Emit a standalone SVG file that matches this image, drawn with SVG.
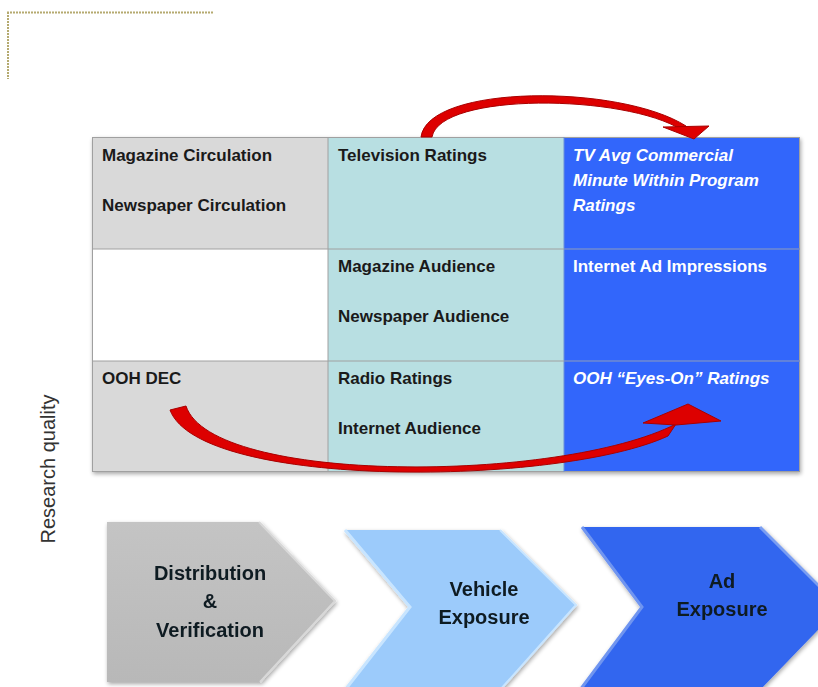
<svg xmlns="http://www.w3.org/2000/svg" width="818" height="687" viewBox="0 0 818 687">
<defs>
<style>
.cell{font-family:"Liberation Sans",Arial,sans-serif;font-weight:bold;font-size:17px;fill:#1a1a1a}
.w{fill:#ffffff}
.it{font-style:italic}
.chev{font-family:"Liberation Sans",Arial,sans-serif;font-weight:bold;font-size:20px;fill:#111a22;text-anchor:middle}
.grid{stroke:#a0a0a0;stroke-width:1;fill:none}
.red{fill:#dd0000;stroke:#a80000;stroke-width:1}
</style>
<linearGradient id="gg" x1="0" y1="0" x2="0" y2="1">
<stop offset="0" stop-color="#c4c4c4"/><stop offset="1" stop-color="#b8b8b8"/>
</linearGradient>
<filter id="sh" x="-10%" y="-10%" width="120%" height="130%">
<feGaussianBlur in="SourceAlpha" stdDeviation="2"/><feOffset dx="1" dy="2"/>
<feComponentTransfer><feFuncA type="linear" slope="0.35"/></feComponentTransfer>
<feMerge><feMergeNode/><feMergeNode in="SourceGraphic"/></feMerge>
</filter>
</defs>
<rect width="818" height="687" fill="#ffffff"/>
<g id="corner" stroke="#b5aa70" stroke-width="2" stroke-dasharray="2,1" fill="none">
<line x1="7" y1="12.5" x2="213" y2="12.5"/>
<line x1="8" y1="12" x2="8" y2="79"/>
</g>
<g id="table" filter="url(#sh)">
<rect x="92" y="137" width="236" height="112" fill="#d9d9d9"/>
<rect x="92" y="249" width="236" height="112" fill="#ffffff"/>
<rect x="92" y="361" width="236" height="111" fill="#d9d9d9"/>
<rect x="328" y="137" width="236" height="335" fill="#b8dfe2"/>
<rect x="564" y="137" width="236" height="335" fill="#3366fb"/>
</g>
<g id="gridlines" class="grid">
<rect x="92.5" y="137.5" width="707" height="334"/>
<line x1="328" y1="137" x2="328" y2="472"/>
<line x1="564" y1="137" x2="564" y2="472" stroke="#6b8fd8"/>
<line x1="92" y1="249" x2="800" y2="249"/>
<line x1="92" y1="361" x2="800" y2="361"/>
<line x1="564" y1="249" x2="800" y2="249" stroke="#5a80e8"/>
<line x1="564" y1="361" x2="800" y2="361" stroke="#5a80e8"/>
</g>
<g id="cell-r1c1"><text class="cell" x="102" y="161">Magazine Circulation</text><text class="cell" x="102" y="211">Newspaper  Circulation</text></g>
<g id="cell-r1c2"><text class="cell" x="338" y="161">Television Ratings</text></g>
<g id="cell-r1c3"><text class="cell w it" x="573" y="161">TV Avg Commercial</text><text class="cell w it" x="573" y="186">Minute Within Program</text><text class="cell w it" x="573" y="211">Ratings</text></g>
<g id="cell-r2c2"><text class="cell" x="338" y="272">Magazine Audience</text><text class="cell" x="338" y="322">Newspaper Audience</text></g>
<g id="cell-r2c3"><text class="cell w" x="573" y="272">Internet Ad Impressions</text></g>
<g id="cell-r3c1"><text class="cell" x="102" y="384">OOH DEC</text></g>
<g id="cell-r3c2"><text class="cell" x="338" y="384">Radio Ratings</text><text class="cell" x="338" y="434">Internet Audience</text></g>
<g id="cell-r3c3"><text class="cell w it" x="573" y="384">OOH “Eyes-On” Ratings</text></g>
<g id="connectors">
<path class="red" d="M421,137 C428,84 620,84 686,126 L682,130 C625,94 440,92 432,137 Z"/>
<polygon class="red" points="663,127 709,126 694,139"/>
<path class="red" d="M170,410 L186,406 C212,485 560,483 676,424 L668,436 C560,486 200,490 170,410 Z"/>
<polygon class="red" points="643,423 688,404 721,421 676,425"/>
</g>
<g id="axis-label">
<text x="55" y="469" transform="rotate(-90 55 469)" text-anchor="middle" font-family="'Liberation Sans',Arial,sans-serif" font-size="20" fill="#333333">Research quality</text>
</g>
<g id="chevron-distribution" filter="url(#sh)">
<polygon points="107,522 259,522 335,601 260,682 107,682" fill="url(#gg)"/>
<polyline points="259,522 335,601 260,682" fill="none" stroke="#d8d8d8" stroke-width="2"/>
<text class="chev" x="210" y="580">Distribution</text>
<text class="chev" x="210" y="608">&amp;</text>
<text class="chev" x="210" y="637">Verification</text>
</g>
<g id="chevron-vehicle" filter="url(#sh)">
<polygon points="345,530 500,530 576,605 500,690 345,690 410,607" fill="#9ccbfb"/>
<polyline points="345,530 410,607 345,690" fill="none" stroke="#c8e5ff" stroke-width="3"/>
<polyline points="500,530 576,605 500,690" fill="none" stroke="#c8e5ff" stroke-width="2"/>
<text class="chev" x="484" y="596">Vehicle</text>
<text class="chev" x="484" y="624">Exposure</text>
</g>
<g id="chevron-ad" filter="url(#sh)">
<polygon points="582,527 760,527 840,607 760,690 580,690 642,607" fill="#3366ef"/>
<polyline points="582,527 642,607 580,690" fill="none" stroke="#6f95f0" stroke-width="3"/>
<polyline points="760,527 840,607" fill="none" stroke="#7a9ef2" stroke-width="3"/>
<text class="chev" x="722" y="588">Ad</text>
<text class="chev" x="722" y="616">Exposure</text>
</g>
</svg>
